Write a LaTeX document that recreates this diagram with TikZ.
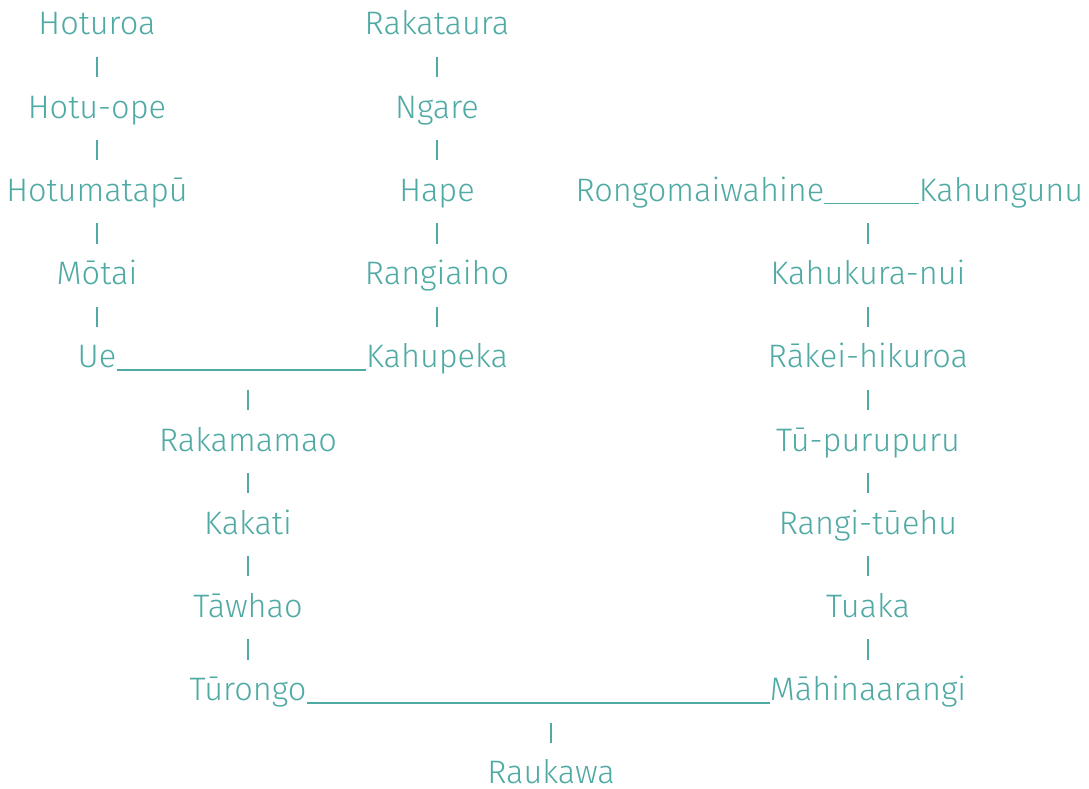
\documentclass[tikz,border=0pt]{standalone}
\usepackage{fontspec}
\setmainfont{Fira Sans Light}
\definecolor{tealtext}{RGB}{80,170,164}
\begin{document}
\begin{tikzpicture}[x=1pt,y=-1pt,
  person/.style={anchor=base,inner sep=0pt,text=tealtext,font=\fontsize{32.5}{34}\selectfont},
  bar/.style={draw=tealtext,line width=1.1pt},
  union/.style={draw=tealtext,line width=1.8pt}]
\useasboundingbox (0,0) rectangle (1089,789);
% column 1
\node[person] (hoturoa) at (97,35) {Hoturoa};
\node[person] (hotuope) at (97,118.2) {Hotu-ope};
\node[person] (hotumatapu) at (97,201.4) {Hotumatapū};
\node[person] (motai) at (97,284.6) {Mōtai};
\node[person] (ue) at (97,367.8) {Ue};
% column 2
\node[person] (rakataura) at (437,35) {Rakataura};
\node[person] (ngare) at (437,118.2) {Ngare};
\node[person] (hape) at (437,201.4) {Hape};
\node[person] (rangiaiho) at (437,284.6) {Rangiaiho};
\node[person] (kahupeka) at (437,367.8) {Kahupeka};
% column A
\node[person] (rakamamao) at (248,451) {Rakamamao};
\node[person] (kakati) at (248,534.2) {Kakati};
\node[person] (tawhao) at (248,617.4) {Tāwhao};
\node[person] (turongo) at (248,700.6) {Tūrongo};
% right side
\node[person] (rongo) at (700,201.4) {Rongomaiwahine};
\node[person] (kahungunu) at (1001,201.4) {Kahungunu};
\node[person] (kahukura) at (868,284.6) {Kahukura-nui};
\node[person] (rakei) at (868,367.8) {Rākei-hikuroa};
\node[person] (tupuru) at (868,451) {Tū-purupuru};
\node[person] (rangituehu) at (868,534.2) {Rangi-tūehu};
\node[person] (tuaka) at (868,617.4) {Tuaka};
\node[person] (mahina) at (868,700.6) {Māhinaarangi};
\node[person] (raukawa) at (551,783) {Raukawa};
% union points
\coordinate (m1) at (248,367.8);
\coordinate (m2) at (868,201.4);
\coordinate (m3) at (551,700.6);
% unions
\draw[union] ([yshift=-2pt]ue.base east) -- ([yshift=-2pt]kahupeka.base west);
\draw[union] ([yshift=-2pt]rongo.base east) -- ([yshift=-2pt]kahungunu.base west);
\draw[union] ([yshift=-2pt]turongo.base east) -- ([yshift=-2pt]mahina.base west);
% descent bars
\foreach \a/\b in {hoturoa/hotuope,hotuope/hotumatapu,hotumatapu/motai,motai/ue,
  rakataura/ngare,ngare/hape,hape/rangiaiho,rangiaiho/kahupeka,
  rakamamao/kakati,kakati/tawhao,tawhao/turongo,
  kahukura/rakei,rakei/tupuru,tupuru/rangituehu,rangituehu/tuaka,tuaka/mahina}
  \draw[bar] ([yshift=-22pt]\a.base) -- ([yshift=41pt]\b.base);
\draw[bar] ([yshift=-22pt]m1) -- ([yshift=41pt]rakamamao.base);
\draw[bar] ([yshift=-22pt]m2) -- ([yshift=41pt]kahukura.base);
\draw[bar] ([yshift=-22pt]m3) -- ([yshift=40pt]raukawa.base);
\end{tikzpicture}
\end{document}
